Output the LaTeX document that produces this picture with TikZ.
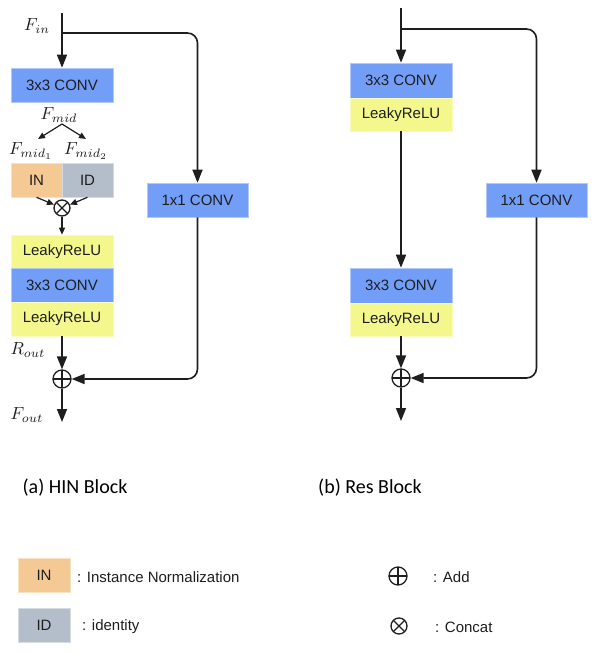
\documentclass[tikz,border=0pt]{standalone}
\usepackage{fontspec}
\newfontfamily\boxfont{Liberation Sans}
\newfontfamily\capfont{Carlito}
\usetikzlibrary{arrows.meta,calc}
\definecolor{convblue}{RGB}{115,158,247}
\definecolor{lreyellow}{RGB}{244,248,140}
\definecolor{inorange}{RGB}{244,201,148}
\definecolor{idgray}{RGB}{180,190,202}
\definecolor{ink}{RGB}{30,30,30}
\tikzset{
  blk/.style={rectangle, minimum width=102pt, minimum height=34pt, inner sep=0pt,
    font=\boxfont\fontsize{15}{15}\selectfont, text=ink},
  conv/.style={blk, fill=convblue, draw=convblue!55!white, line width=0.6pt},
  lrelu/.style={blk, fill=lreyellow, draw=lreyellow!55!white, line width=0.6pt},
  inbox/.style={blk, fill=inorange, draw=inorange!55!white, line width=0.6pt, minimum width=51pt},
  idbox/.style={blk, fill=idgray, draw=idgray!55!white, line width=0.6pt, minimum width=51pt},
  lbl/.style={font=\fontsize{10}{12}\selectfont, text=ink, inner sep=0pt, scale=1.75},
  captxt/.style={font=\capfont\fontsize{20}{20}\selectfont, text=black, inner sep=0pt},
  legtxt/.style={font=\boxfont\fontsize{15}{15}\selectfont, text=ink, inner sep=0pt, anchor=west},
  addc/.style={circle, draw=ink, line width=1.3pt, minimum size=18pt, inner sep=0pt,
    path picture={\draw[ink, line width=1.3pt]
      (path picture bounding box.north) -- (path picture bounding box.south)
      (path picture bounding box.west) -- (path picture bounding box.east);}},
  catc/.style={circle, draw=ink, line width=1.3pt, minimum size=16pt, inner sep=0pt,
    path picture={\draw[ink, line width=1.3pt]
      (path picture bounding box.north west) -- (path picture bounding box.south east)
      (path picture bounding box.south west) -- (path picture bounding box.north east);}},
  arr/.style={draw=ink, line width=1.6pt, -{Triangle[length=13pt,width=10pt]}},
  sarr/.style={draw=ink, line width=1.2pt, -{Triangle[length=7pt,width=6pt]}},
}
\begin{document}
\begin{tikzpicture}[x=1pt,y=-1pt]
\useasboundingbox (0,0) rectangle (596,654);

% ---------------- (a) HIN Block ----------------
\node[conv] (convA1) at (62,85) {3x3 CONV};
\node[inbox] (inA) at (36.5,180) {IN};
\node[idbox] (idA) at (87.5,180) {ID};
\node[catc] (catA) at (62,208) {};
\node[lrelu, minimum height=33pt] (lrA1) at (62,251.5) {LeakyReLU};
\node[conv] (convA2) at (62,285) {3x3 CONV};
\node[lrelu] (lrA2) at (62,319) {LeakyReLU};
\node[addc] (addA) at (62,379) {};
\node[conv, minimum width=101pt] (oneA) at (197.5,200) {1x1 CONV};

\coordinate (inA0) at (62,13);
\coordinate (brA) at (62,33);
\coordinate (fanA) at (62,124);
\coordinate (fanA1) at (38,139);
\coordinate (fanA2) at (86,139);
\coordinate (outA) at (62,422);

\node[lbl] (finA) at (37,26) {$F_{in}$};
\node[lbl] (fmidA) at (59,115) {$F_{mid}$};
\node[lbl] (fmid1A) at (31,151) {$F_{mid_1}$};
\node[lbl] (fmid2A) at (86,151) {$F_{mid_2}$};
\node[lbl] (routA) at (28,350) {$R_{out}$};
\node[lbl] (foutA) at (27,415) {$F_{out}$};

\draw[arr] (inA0) -- (convA1.north);
\draw[arr, rounded corners=10pt] (brA) -| (oneA.north);
\draw[sarr] (fanA) -- (fanA1);
\draw[sarr] (fanA) -- (fanA2);
\draw[sarr] (inA.south) -- (catA);
\draw[sarr] (idA.south) -- (catA);
\draw[sarr] (catA) -- (lrA1.north);
\draw[arr] (lrA2.south) -- (addA);
\draw[arr] (addA) -- (outA);
\draw[arr, rounded corners=10pt] (oneA.south) |- (addA);

% ---------------- (b) Res Block ----------------
\node[conv, minimum height=35pt] (convB1) at (401,80.5) {3x3 CONV};
\node[lrelu, minimum height=33pt] (lrB1) at (401,114.5) {LeakyReLU};
\node[conv, minimum height=35pt] (convB2) at (401,285.5) {3x3 CONV};
\node[lrelu, minimum height=33pt] (lrB2) at (401,319.5) {LeakyReLU};
\node[addc] (addB) at (401,378) {};
\node[conv, minimum width=101pt] (oneB) at (536.5,200) {1x1 CONV};

\coordinate (inB0) at (401,8);
\coordinate (brB) at (401,29);
\coordinate (outB) at (401,421);

\draw[arr] (inB0) -- (convB1.north);
\draw[arr, rounded corners=10pt] (brB) -| (oneB.north);
\draw[arr] (lrB1.south) -- (convB2.north);
\draw[arr] (lrB2.south) -- (addB);
\draw[arr] (addB) -- (outB);
\draw[arr, rounded corners=10pt] (oneB.south) |- (addB);

% ---------------- captions ----------------
\node[captxt] (capA) at (75,488) {(a) HIN Block};
\node[captxt] (capB) at (370,488) {(b) Res Block};

% ---------------- legend ----------------
\node[inbox, minimum width=52pt] (legIN) at (44,575) {IN};
\node[idbox, minimum width=52pt] (legID) at (44,625) {ID};
\node[legtxt] (legINt) at (77,577) {: Instance Normalization};
\node[legtxt] (legIDt) at (82,627) {: identity};
\node[addc] (legAdd) at (398,576) {};
\node[catc] (legCat) at (399,626) {};
\node[legtxt] (legAddt) at (433,577) {: Add};
\node[legtxt] (legCatt) at (435,627) {: Concat};
\end{tikzpicture}
\end{document}
